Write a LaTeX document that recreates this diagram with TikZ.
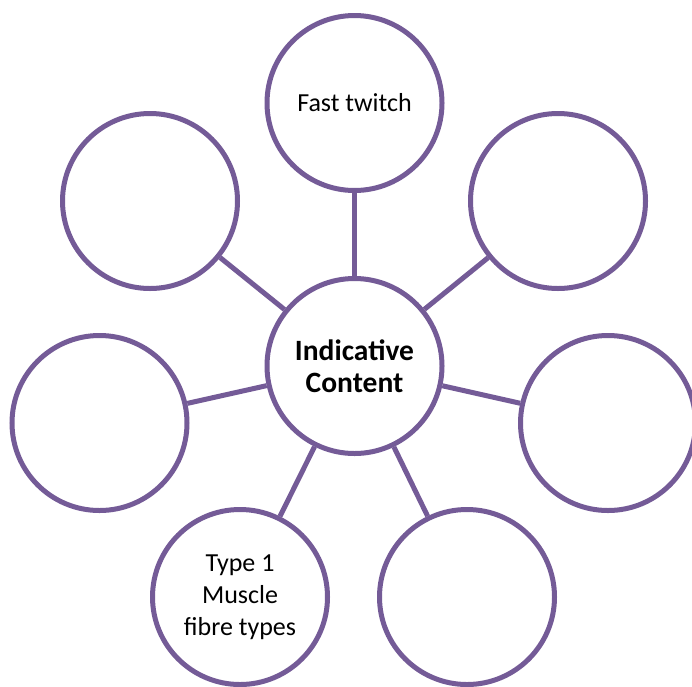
\documentclass[tikz,border=0pt]{standalone}
\usepackage{fontspec}
\setmainfont{Carlito}
\definecolor{ringpurple}{RGB}{116,91,151}
\begin{document}
\begin{tikzpicture}[x=1pt,y=-1pt,
  bubble/.style={circle,draw=ringpurple,line width=5pt,fill=white,minimum size=175pt,inner sep=0pt,align=center,font=\fontsize{26}{32}\selectfont},
  hub/.style={bubble,font=\fontsize{29.5}{32}\selectfont\bfseries},
  link/.style={draw=ringpurple,line width=5pt}]
\useasboundingbox (0,0) rectangle (692,686);
\begin{scope}
\clip (0,0) rectangle (692,686);
\node[hub] (c) at (354.5,366) {Indicative\\Content};
\node[bubble] (n1) at (354.5,103) {Fast twitch};
\node[bubble] (n2) at (558,201) {};
\node[bubble] (n3) at (608,423) {};
\node[bubble] (n4) at (467,597) {};
\node[bubble] (n5) at (240,597) {Type 1\\Muscle\\fibre types};
\node[bubble] (n6) at (99.5,423) {};
\node[bubble] (n7) at (150,201) {};
\foreach \n in {n1,n2,n3,n4,n5,n6,n7} \draw[link] (c) -- (\n);
\end{scope}
\end{tikzpicture}
\end{document}
